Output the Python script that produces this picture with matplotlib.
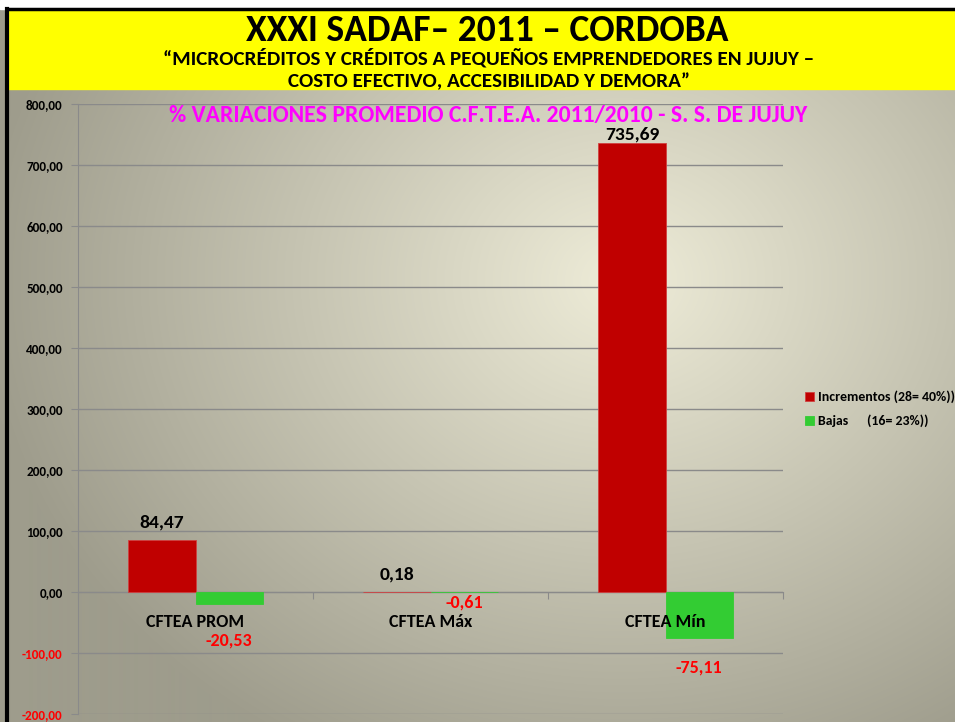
import numpy as np
import matplotlib.pyplot as plt
from matplotlib.patches import Rectangle

categories = ['CFTEA PROM', 'CFTEA Máx', 'CFTEA Mín']
incrementos = [84.47, 0.18, 735.69]
bajas = [-20.53, -0.61, -75.11]
inc_labels = ['84,47', '0,18', '735,69']
baj_labels = ['-20,53', '-0,61', '-75,11']
yticks = [-200, -100, 0, 100, 200, 300, 400, 500, 600, 700, 800]

body = ['Carlito', 'DejaVu Sans']

fig = plt.figure(figsize=(9.55, 7.22), dpi=100)

# grey radial background
bg = fig.add_axes([0, 0, 1, 1], zorder=-2)
yy, xx = np.mgrid[0:722, 0:955]
d = np.sqrt(((xx - 620) / 640.0) ** 2 + ((yy - 280) / 540.0) ** 2)
d = np.clip(d, 0, 1)
c0 = np.array([238, 236, 216]) / 255.0
c1 = np.array([158, 156, 140]) / 255.0
img = c0[None, None, :] * (1 - d[..., None]) + c1[None, None, :] * d[..., None]
bg.imshow(img, extent=[0, 955, 722, 0], aspect='auto')
bg.set_xlim(0, 955)
bg.set_ylim(722, 0)
bg.axis('off')
# white strip, yellow banner, black frame
bg.add_patch(Rectangle((0, 0), 955, 9, color='white'))
bg.add_patch(Rectangle((8, 9), 947, 80, color='#ffff00'))
bg.plot([8, 955], [9, 9], color='black', lw=2.5)
bg.plot([7, 7], [9, 722], color='black', lw=3)

fig.text(0.51, 0.958, 'XXXI SADAF– 2011 – CORDOBA', ha='center', va='center',
         fontsize=27, fontweight='bold', family=body)
fig.text(0.512, 0.920, '“MICROCRÉDITOS Y CRÉDITOS A PEQUEÑOS EMPRENDEDORES EN JUJUY –',
         ha='center', va='center', fontsize=15.2, fontweight='bold', family=body)
fig.text(0.512, 0.887, 'COSTO EFECTIVO, ACCESIBILIDAD Y DEMORA”',
         ha='center', va='center', fontsize=15.2, fontweight='bold', family=body)

ax = fig.add_axes([0.0817, 0.0111, 0.7382, 0.845])
ax.set_facecolor('none')
x = np.arange(len(categories))
w = 0.286
ax.bar(x - w / 2, incrementos, w, color='#c00000', edgecolor='#d04040', lw=0.6,
       label='Incrementos (28= 40%))', zorder=3)
ax.bar(x + w / 2, bajas, w, color='#33cc33', edgecolor='#33cc33', lw=0.6,
       label='Bajas      (16= 23%))', zorder=3)

ax.set_xlim(-0.5, 2.5)
ax.set_ylim(-200, 800)
ax.set_yticks(yticks)
ax.set_yticklabels([('%d,00' % v) for v in yticks])
for lab, v in zip(ax.get_yticklabels(), yticks):
    lab.set_fontweight('bold')
    lab.set_fontsize(9.5)
    lab.set_family(body)
    lab.set_color('red' if v < 0 else 'black')
ax.grid(axis='y', color='#8a8a8a', lw=1, zorder=0)
ax.tick_params(axis='y', length=5, color='#8a8a8a', pad=6)

ax.spines['bottom'].set_position(('data', 0))
ax.spines['bottom'].set_color('#8a8a8a')
ax.spines['left'].set_color('#8a8a8a')
ax.spines['top'].set_visible(False)
ax.spines['right'].set_visible(False)
ax.set_xticks([-0.5, 0.5, 1.5, 2.5])
ax.set_xticklabels([])
ax.tick_params(axis='x', length=5, color='#8a8a8a', direction='out')

for i, cat in enumerate(categories):
    ax.text(i, -49, cat, ha='center', va='center', fontsize=13,
            fontweight='bold', family=body)

inc_pos = [(0 - w / 2, 114), (1 - w / 2, 28), (2 - w / 2, 750)]
baj_pos = [(0 + w / 2, -79), (1 + w / 2, -18), (2 + w / 2, -124)]
for (px, py), t in zip(inc_pos, inc_labels):
    ax.text(px, py, t, ha='center', va='center', fontsize=14,
            fontweight='bold', family=body, zorder=4)
for (px, py), t in zip(baj_pos, baj_labels):
    ax.text(px, py, t, ha='center', va='center', fontsize=13,
            fontweight='bold', family=body, color='red', zorder=4)

fig.text(0.511, 0.840, '% VARIACIONES PROMEDIO C.F.T.E.A. 2011/2010 - S. S. DE JUJUY',
         ha='center', va='center', fontsize=17, fontweight='bold',
         color='#ff00ff', family=body)

leg = ax.legend(loc='center left', bbox_to_anchor=(1.0, 0.50), frameon=False,
                prop={'weight': 'bold', 'size': 10, 'family': body},
                handlelength=0.6, handleheight=0.6, handletextpad=0.3,
                labelspacing=0.8, borderaxespad=1.2)

fig.savefig('out.png', dpi=100)
